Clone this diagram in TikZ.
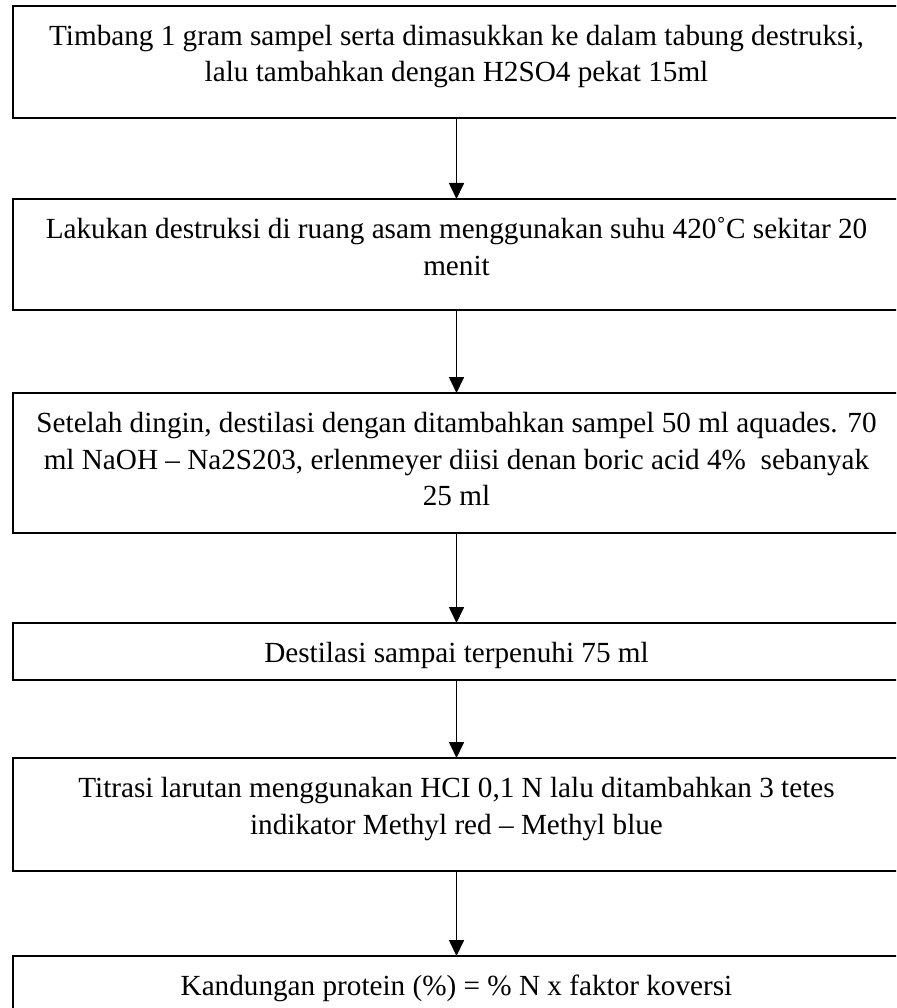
\documentclass[tikz,border=0pt]{standalone}
\usepackage{fontspec}
\setmainfont{Liberation Serif}
\usetikzlibrary{arrows.meta}
\tikzset{
  stepbox/.style={draw=black, line width=1.8pt, inner sep=0pt, outer sep=0pt, anchor=north},
  flowarrow/.style={draw=black, line width=1.7pt, -{Triangle[length=16pt,width=15pt]}, shorten >=0pt}
}
\newcommand{\boxtext}[2]{\parbox[t][#1][t]{887pt}{\centering\fontsize{29.2pt}{36.5pt}\selectfont\rule{0pt}{39.5pt}#2\par}}
\begin{document}
\begin{tikzpicture}[x=1pt,y=-1pt]
\useasboundingbox (0,0) rectangle (896,1008);
\clip (0,0) rectangle (896,1008);
\node[stepbox] (b1) at (456.5,6) {\boxtext{112pt}{Timbang 1 gram sampel serta dimasukkan ke dalam tabung destruksi,\\ lalu tambahkan dengan H2SO4 pekat 15ml}};
\node[stepbox] (b2) at (456.5,199) {\boxtext{111pt}{Lakukan destruksi di ruang asam menggunakan suhu 420˚C sekitar 20\\ menit}};
\node[stepbox] (b3) at (456.5,393) {\boxtext{140pt}{Setelah dingin, destilasi dengan ditambahkan sampel 50 ml aquades. 70\\ ml NaOH – Na2S203, erlenmeyer diisi denan boric acid 4\%\ \ sebanyak\\ 25 ml}};
\node[stepbox] (b4) at (456.5,623) {\boxtext{57pt}{Destilasi sampai terpenuhi 75 ml}};
\node[stepbox] (b5) at (456.5,758) {\boxtext{113pt}{Titrasi larutan menggunakan HCI 0,1 N lalu ditambahkan 3 tetes\\ indikator Methyl red – Methyl blue}};
\node[stepbox] (b6) at (456.5,956) {\boxtext{70pt}{Kandungan protein (\%) = \% N x faktor koversi}};
\draw[flowarrow] (b1.south) -- (b2.north);
\draw[flowarrow] (b2.south) -- (b3.north);
\draw[flowarrow] (b3.south) -- (b4.north);
\draw[flowarrow] (b4.south) -- (b5.north);
\draw[flowarrow] (b5.south) -- (b6.north);
\end{tikzpicture}
\end{document}
